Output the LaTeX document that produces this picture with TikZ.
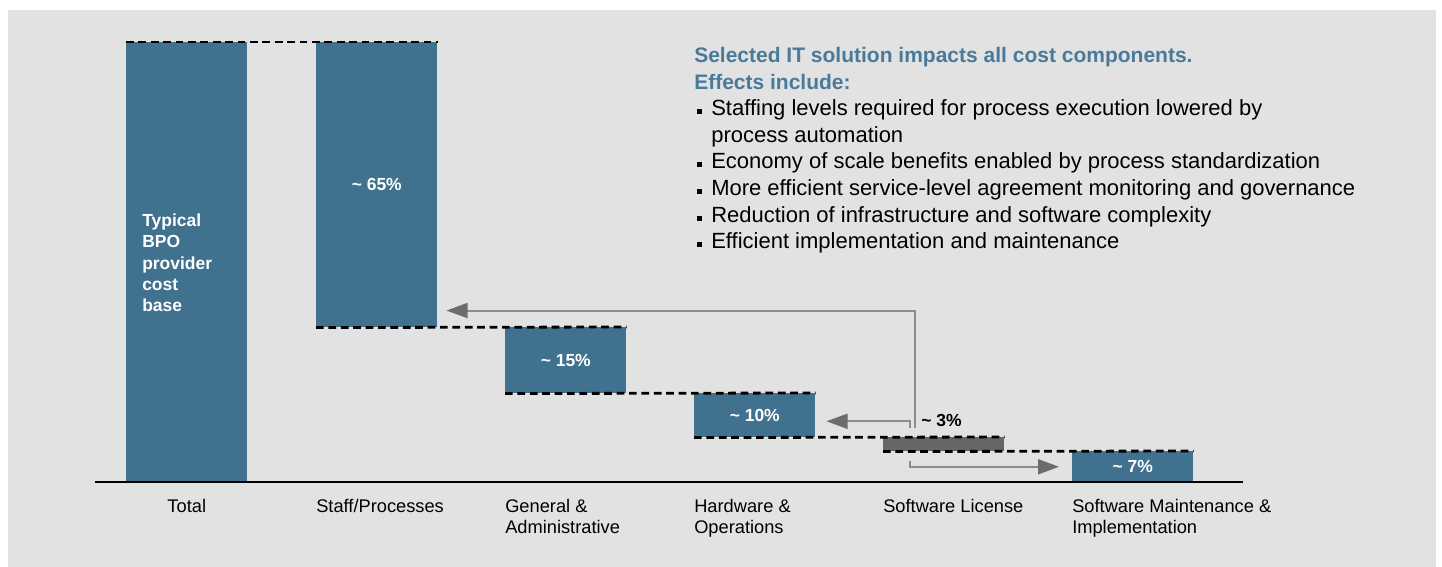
\documentclass[tikz,border=0pt]{standalone}
\usepackage{xcolor}
\usepackage{fontspec}
\setmainfont{Liberation Sans}
\usepackage{tikz}
\usetikzlibrary{positioning,calc,arrows.meta}

\definecolor{bgGray}{RGB}{226,226,226}
\definecolor{barBlue}{RGB}{64,113,142}
\definecolor{licGray}{RGB}{102,102,102}
\definecolor{titleBlue}{RGB}{74,122,153}
\definecolor{arrowGray}{RGB}{140,140,140}
\definecolor{tipGray}{RGB}{108,108,108}

\newdimen\unitpx \unitpx=0.75pt
\newcommand{\sqitem}{\hspace*{3\unitpx}\rule[1.5\unitpx]{5\unitpx}{5\unitpx}\hspace*{9\unitpx}}

\begin{document}
\begin{tikzpicture}[x=0.75pt,y=-0.75pt,
    bar/.style={fill=barBlue, inner sep=0pt, minimum width=121\unitpx, anchor=north west,
      text=white, font=\bfseries\fontsize{13.1}{16.1}\selectfont},
    bartext/.style={text=white, inner sep=0pt, align=left, font=\bfseries\fontsize{13.1}{16.1}\selectfont},
    level/.style={black, line width=2.1pt, dash pattern=on 5.8pt off 3.5pt},
    flow/.style={arrowGray, line width=1.5pt, -{Triangle[length=15.75pt,width=11.25pt,color=tipGray]}},
    cat/.style={anchor=north west, inner sep=0pt, align=left, font=\fontsize{13.7}{15.75}\selectfont}]

    % background
    \useasboundingbox (0,0) rectangle (1442,567);
    \fill[bgGray] (8,10) rectangle (1436,567);

    % bars
    \node[bar, minimum height=441\unitpx] (total) at (126,42) {};
    \node[bar, minimum height=285\unitpx] (staff) at (316,42) {\textasciitilde\ 65\%};
    \node[bar, minimum height=66\unitpx] (ga) at (505,327) {\textasciitilde\ 15\%};
    \node[bar, minimum height=44\unitpx] (hw) at (694,393) {\textasciitilde\ 10\%};
    \node[bar, minimum height=14\unitpx, fill=licGray] (sw) at (883,437) {};
    \node[bar, minimum height=31\unitpx] (maint) at (1072,451) {\textasciitilde\ 7\%};
    \node[bartext, anchor=west] (totaltext) at ([xshift=16\unitpx]total.west)
      {Typical\\BPO\\provider\\cost\\base};

    % levels
    \draw[level] (total.north west) -- (staff.north east);
    \draw[level] (staff.south west) -- (ga.north east);
    \draw[level] (ga.south west) -- (hw.north east);
    \draw[level] (hw.south west) -- (sw.north east);
    \draw[level] (sw.south west) -- (maint.north east);

    % axis
    \coordinate (axisL) at (95,482);
    \coordinate (axisR) at (1243,482);
    \draw[black, line width=1.9pt] (axisL) -- (axisR);

    % categories
    \node[cat, anchor=north] (totalcat) at ([yshift=-15\unitpx]total.south) {Total};
    \node[cat] (staffcat) at ([yshift=-17\unitpx]staff.west |- axisL) {Staff/Processes};
    \node[cat] (gacat) at ([yshift=-17\unitpx]ga.west |- axisL) {General \&\\Administrative};
    \node[cat] (hwcat) at ([yshift=-17\unitpx]hw.west |- axisL) {Hardware \&\\Operations};
    \node[cat] (swcat) at ([yshift=-17\unitpx]sw.west |- axisL) {Software License};
    \node[cat] (maintcat) at ([yshift=-17\unitpx]maint.west |- axisL) {Software Maintenance \&\\Implementation};

    % license share and its effects
    \node[bartext, text=black, anchor=west] (swshare) at ([shift={(38,-17)}]sw.north west) {\textasciitilde\ 3\%};
    \draw[flow] ([shift={(32,-9)}]sw.north west) |- ([shift={(9,-17)}]staff.south east);
    \draw[flow] ([shift={(27,-9)}]sw.north west) |- ([shift={(11,6)}]hw.east);
    \draw[flow] ([shift={(27,9)}]sw.south west) |- ([shift={(-13,0)}]maint.west);

    % effects text
    \node[anchor=north west, inner sep=0pt, align=left, font=\fontsize{16.5}{19.95}\selectfont] (effects) at (694,47)
      {{\color{titleBlue}\bfseries\fontsize{15.75}{19.95}\selectfont Selected IT solution impacts all cost components.}\\
       {\color{titleBlue}\bfseries\fontsize{15.75}{19.95}\selectfont Effects include:}\\
       \sqitem Staffing levels required for process execution lowered by\\
       \hspace*{17\unitpx}process automation\\
       \sqitem Economy of scale benefits enabled by process standardization\\
       \sqitem More efficient service-level agreement monitoring and governance\\
       \sqitem Reduction of infrastructure and software complexity\\
       \sqitem Efficient implementation and maintenance};
\end{tikzpicture}
\end{document}
